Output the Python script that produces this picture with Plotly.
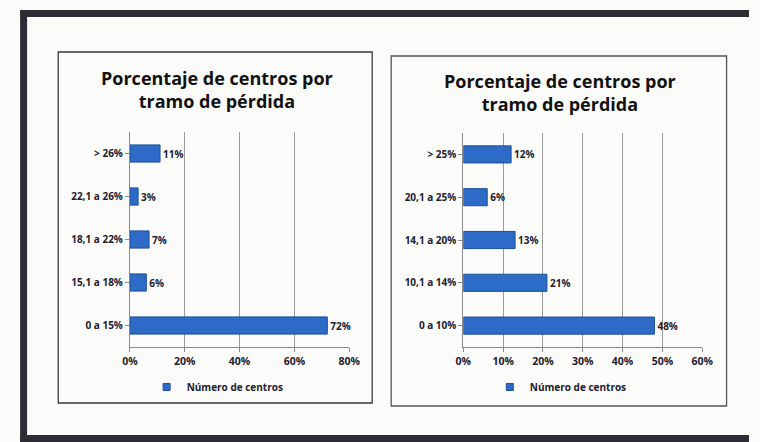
import plotly.graph_objects as go

W, H = 760, 442

# Data
cats_left = ["0 a 15%", "15,1 a 18%", "18,1 a 22%", "22,1 a 26%", "> 26%"]
vals_left = [72, 6, 7, 3, 11]
cats_right = ["0 a 10%", "10,1 a 14%", "14,1 a 20%", "20,1 a 25%", "> 25%"]
vals_right = [48, 21, 13, 6, 12]
title_text = "Porcentaje de centros por<br>tramo de pérdida"
series_name = "Número de centros"
ticks_left = [0, 20, 40, 60, 80]
ticks_right = [0, 10, 20, 30, 40, 50, 60]

FONT = "Open Sans"
BAR = "#2d6bc6"
BAR_LINE = "#1d4f9c"
TXT = "#1d2030"

def px(x):
    return x / W

def py(y):
    return 1 - y / H

fig = go.Figure()

for cats, vals, xa, ya in [(cats_left, vals_left, "x", "y"),
                           (cats_right, vals_right, "x2", "y2")]:
    fig.add_trace(go.Bar(
        y=cats, x=vals, orientation="h", name=series_name, showlegend=False,
        marker=dict(color=BAR, line=dict(color=BAR_LINE, width=1)),
        text=[f"{v}%" for v in vals], textposition="outside",
        textfont=dict(family=FONT, size=10, color=TXT, weight="bold"),
        cliponaxis=False, xaxis=xa, yaxis=ya,
    ))

# legend entries: small square markers
for xa, ya, lg in [("x", "y", "legend"), ("x2", "y2", "legend2")]:
    fig.add_trace(go.Scatter(
        x=[None], y=[None], mode="markers", name=series_name,
        marker=dict(symbol="square", size=7, color=BAR, line=dict(color=BAR_LINE, width=1)),
        xaxis=xa, yaxis=ya, legend=lg, showlegend=True,
    ))

xcommon = dict(showgrid=True, gridcolor="#9a9a9a", gridwidth=1,
               showline=True, linecolor="#8a8a8a", ticks="outside",
               ticklen=4, tickcolor="#8a8a8a", zeroline=False,
               tickfont=dict(family=FONT, size=10.5, color=TXT, weight="bold"),
               fixedrange=True)
ycommon = dict(showline=True, linecolor="#8a8a8a", ticks="outside",
               ticklen=4, tickcolor="#8a8a8a", showgrid=False,
               tickfont=dict(family=FONT, size=10, color=TXT, weight="bold"),
               fixedrange=True)

legcommon = dict(orientation="h", bgcolor="rgba(0,0,0,0)",
                 font=dict(family=FONT, size=10, color=TXT, weight="bold"),
                 xanchor="center", yanchor="middle", itemwidth=30)

fig.update_layout(
    width=W, height=H, margin=dict(l=0, r=0, t=0, b=0),
    paper_bgcolor="#fbfbfa", plot_bgcolor="rgba(0,0,0,0)",
    bargap=0.6, showlegend=True,
    xaxis=dict(domain=[px(125), px(350)], range=[0, 80], tickvals=ticks_left,
               ticktext=[f"{t}%" for t in ticks_left], anchor="y", **xcommon),
    yaxis=dict(domain=[py(347), py(132)], anchor="x", **ycommon),
    xaxis2=dict(domain=[px(467), px(712)], range=[0, 60], tickvals=ticks_right,
                ticktext=[f"{t}%" for t in ticks_right], anchor="y2", **xcommon),
    yaxis2=dict(domain=[py(347), py(133)], anchor="x2", **ycommon),
    legend=dict(x=px(215), y=py(387), **legcommon),
    legend2=dict(x=px(567), y=py(387), **legcommon),
)

FRAME = dict(color="#2c2e34", width=7)
shapes = [
    # outer dark frame (open on right): top, left, bottom
    dict(type="line", xref="paper", yref="paper", x0=px(12.5), x1=1, y0=py(13.5), y1=py(13.5), line=FRAME),
    dict(type="line", xref="paper", yref="paper", x0=px(16), x1=px(16), y0=py(10), y1=py(442), line=FRAME),
    dict(type="line", xref="paper", yref="paper", x0=px(12.5), x1=1, y0=py(438.5), y1=py(438.5), line=FRAME),
    # chart boxes
    dict(type="rect", xref="paper", yref="paper",
         x0=px(51.5), x1=px(373.5), y0=py(403), y1=py(52),
         line=dict(color="#3a3a3a", width=1.3), fillcolor="rgba(0,0,0,0)"),
    dict(type="rect", xref="paper", yref="paper",
         x0=px(393), x1=px(737), y0=py(406), y1=py(56),
         line=dict(color="#555", width=1.3), fillcolor="rgba(0,0,0,0)"),
]
fig.update_layout(shapes=shapes)

for cx, cy in [(214, 90), (566, 92)]:
    fig.add_annotation(text=title_text, x=px(cx), y=py(cy), xref="paper", yref="paper",
                       showarrow=False, xanchor="center", yanchor="middle",
                       font=dict(family=FONT, size=18, color="#111", weight="bold"),
                       align="center")

fig.write_html(
    "out.html",
    config={"displayModeBar": False},
    post_script="document.body.style.margin='0';document.body.style.padding='0';"
                "document.body.style.overflow='hidden';",
)
